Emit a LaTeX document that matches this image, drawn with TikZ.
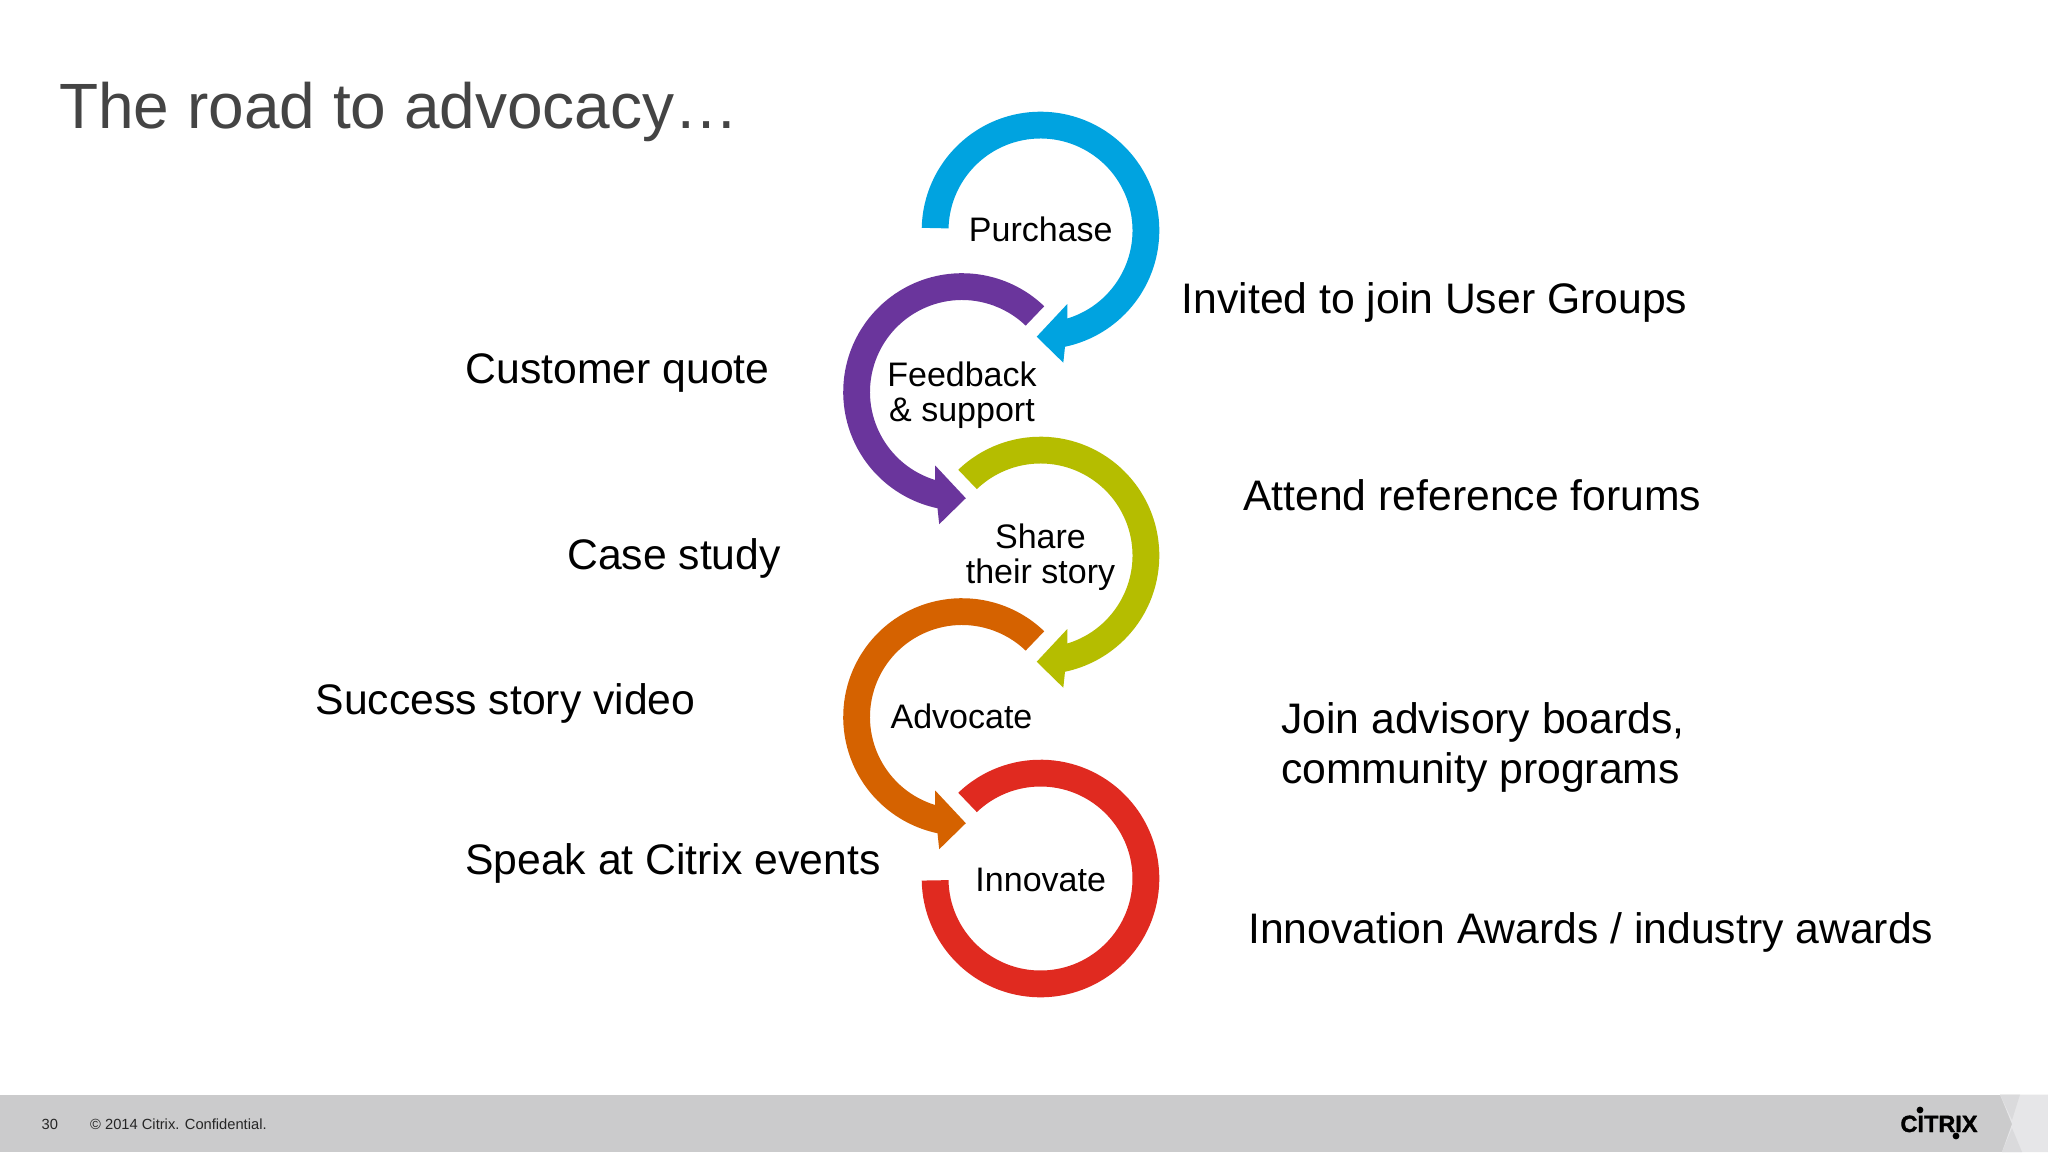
\documentclass[tikz,border=0pt]{standalone}
\usepackage{fontspec}
\setmainfont{Liberation Sans}
\newfontfamily\logofont[BoldFeatures={FakeBold=1.5}]{Liberation Sans}
\definecolor{cblue}{HTML}{00A3E0}
\definecolor{cpurple}{HTML}{6A359C}
\definecolor{cgreen}{HTML}{B5BD00}
\definecolor{corange}{HTML}{D56200}
\definecolor{cred}{HTML}{E02A20}
\definecolor{titlegrey}{HTML}{444444}
\definecolor{barcol}{HTML}{CBCBCC}
\definecolor{barlight}{HTML}{E6E6E8}
\definecolor{barmid}{HTML}{DADADC}
\newcommand{\ringarrow}[5]{% cx, cy, xscale, start angle, colour
  \begin{scope}[shift={(#1,#2)},xscale=#3]
    \fill[#5] (#4:118.8pt) arc[start angle=#4,end angle=438.1,radius=118.8pt]
      -- (22.8,132.2) -- (-3.8,106.2) -- (26.8,73.5) -- (73:92pt)
      arc[start angle=433,end angle=#4,radius=92pt] -- cycle;
  \end{scope}}
\tikzset{
  titletext/.style={anchor=base west,inner sep=0pt,text=titlegrey,font=\fontsize{64}{64}\selectfont},
  sidetext/.style={anchor=base west,inner sep=0pt,align=left,text=black,font=\fontsize{42.7}{50.5}\selectfont},
  ringtext/.style={anchor=base,inner sep=0pt,align=center,text=black,font=\fontsize{34}{35}\selectfont},
  foottext/.style={anchor=base west,inner sep=0pt,text=black!85,font=\fontsize{14.7}{15}\selectfont},
  logotext/.style={anchor=base,inner sep=0pt,text=black,font=\logofont\bfseries\fontsize{23.5}{23.5}\selectfont}
}
\begin{document}
\begin{tikzpicture}[x=1pt,y=1pt,yscale=-1]
\useasboundingbox (0,0) rectangle (2048,1152);
\fill[white] (0,0) rectangle (2048,1152);
% footer
\fill[barcol] (0,1094.5) rectangle (2048,1152);
\fill[barlight] (2000,1094.5) -- (2048,1094.5) -- (2048,1152) -- (2002,1152) -- (2012,1124) -- cycle;
\fill[barmid] (2000,1094.5) -- (2020,1094.5) -- (2012,1120) -- cycle;
\fill[barmid] (2002,1152) -- (2022,1152) -- (2012,1128) -- cycle;
% rings
\ringarrow{1040.5}{230.5}{1}{181.3}{cblue}
\ringarrow{962}{392}{-1}{226.2}{cpurple}
\ringarrow{1040.5}{555.5}{1}{226.2}{cgreen}
\ringarrow{962}{717}{-1}{226.2}{corange}
\begin{scope}[shift={(1040.5,878.5)}]
  \fill[cred] (226.2:118.8pt)
    arc[start angle=226.2,end angle=539,radius=118.8pt]
    -- (179:92pt) arc[start angle=539,end angle=226.2,radius=92pt] -- cycle;
\end{scope}
% title
\node[titletext] (title) at (59,128.5) {The road to advocacy…};
% ring labels
\node[ringtext] (purchase) at (1040.8,241.9) {Purchase};
\node[ringtext] (feedback) at (962,421.7) {Feedback\\\& support};
\node[ringtext] (share) at (1040.5,583) {Share\\their story};
\node[ringtext] (advocate) at (961.5,728.2) {Advocate};
\node[ringtext] (innovate) at (1040.7,891) {Innovate};
% left
\node[sidetext] (quote) at (465.5,383.5) {Customer quote};
\node[sidetext] (case) at (567,569.2) {Case study};
\node[sidetext] (video) at (315.5,714.6) {Success story video};
\node[sidetext] (speak) at (465,874.6) {Speak at Citrix events};
% right
\node[sidetext] (groups) at (1181.5,313.6) {Invited to join User Groups};
\node[sidetext] (forums) at (1243,510) {Attend reference forums};
\node[sidetext] (boards) at (1281,783.5) {Join advisory boards,\\community programs};
\node[sidetext] (awards) at (1248,943.5) {Innovation Awards / industry awards};
% footer text
\node[foottext] (page) at (41.5,1129) {30};
\node[foottext] (copy) at (90,1129) {© 2014 Citrix. Confidential.};
\node[logotext] (logo) at (1939,1132) {CITRIX};
\fill[black] (1920,1110) circle[radius=3.4pt];
\fill[black] (1956,1136) circle[radius=3.4pt];
\end{tikzpicture}
\end{document}
